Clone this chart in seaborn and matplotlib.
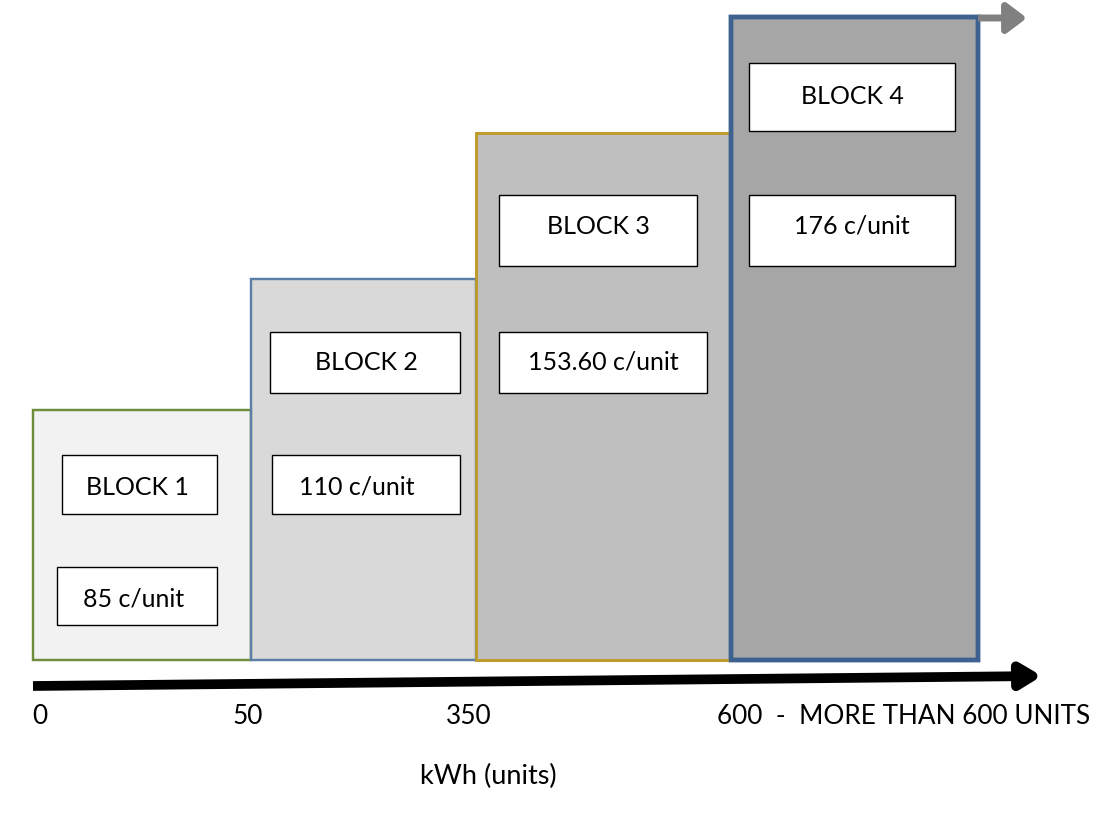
import matplotlib
matplotlib.use("Agg")
import matplotlib.pyplot as plt
import seaborn as sns
from matplotlib.patches import Rectangle

# ---------------- data ----------------
block_names = ["BLOCK 1", "BLOCK 2", "BLOCK 3", "BLOCK 4"]
block_rates = [85, 110, 153.60, 176]
rate_labels = ["85 c/unit", "110 c/unit", "153.60 c/unit", "176 c/unit"]
threshold_labels = ["0", "50", "350", "600  -  MORE THAN 600 UNITS"]
axis_title = "kWh (units)"

# ---------------- layout (pixel space) ----------------
block_left = [33, 251, 476, 731]
block_width = [218, 225, 255, 247]
block_top = [410, 279, 133, 17]
block_bottom = 660
block_fill = ["#f2f2f2", "#d9d9d9", "#bfbfbf", "#a6a6a6"]
block_edge = ["#6f8c3c", "#5b7fa6", "#bf9b2a", "#3d6290"]
block_lw = [1.6, 1.6, 1.9, 3.2]

name_box = [(62, 455, 155, 59), (270, 332, 190, 61), (499, 195, 198, 71), (749, 63, 206, 68)]
rate_box = [(57, 567, 160, 58), (272, 455, 188, 59), (499, 332, 208, 61), (749, 195, 206, 71)]
name_txt = [(137, 487), (366, 362), (598, 226), (852, 96)]
rate_txt = [(134, 599), (357, 487), (603, 362), (852, 226)]
tick_x = [32, 232, 446, 717]
tick_y = 717

sns.set_theme(style="white")
plt.rcParams["font.family"] = ["Lato", "DejaVu Sans"]

fig = plt.figure(figsize=(11.19, 8.23), dpi=100)
ax = fig.add_axes([0, 0, 1, 1])
ax.set_xlim(0, 1119)
ax.set_ylim(823, 0)
ax.axis("off")

# blocks as bars
heights = [block_bottom - t for t in block_top]
ax.bar(block_left, [-h for h in heights], width=block_width, bottom=block_bottom,
       align="edge", color=block_fill, edgecolor=block_edge, linewidth=block_lw, zorder=2)
for i in range(4):
    ax.add_patch(Rectangle((block_left[i], block_top[i]), block_width[i], heights[i],
                           fill=False, edgecolor=block_edge[i], linewidth=block_lw[i],
                           zorder=3 + i, joinstyle="miter"))

fs = 18
for i in range(4):
    for (bx, by, bw, bh), (tx, ty), label in ((name_box[i], name_txt[i], block_names[i]),
                                              (rate_box[i], rate_txt[i], rate_labels[i])):
        ax.add_patch(Rectangle((bx, by), bw, bh, facecolor="white", edgecolor="black",
                               linewidth=1.0, zorder=10))
        ax.text(tx, ty, label, ha="center", va="center", fontsize=fs, color="black", zorder=11)

# grey continuation arrow
ax.annotate("", xy=(1027, 18), xytext=(978, 18),
            arrowprops=dict(arrowstyle="-|>,head_length=1.0,head_width=0.75",
                            color="#808080", lw=5, shrinkA=0, shrinkB=0,
                            capstyle="butt"), zorder=12)

# black axis arrow
ax.annotate("", xy=(1042, 676), xytext=(33, 686),
            arrowprops=dict(arrowstyle="-|>,head_length=1.0,head_width=0.6",
                            color="black", lw=7, shrinkA=0, shrinkB=0,
                            capstyle="butt"), zorder=12)

for x, lab in zip(tick_x, threshold_labels):
    ax.text(x, tick_y, lab, ha="left", va="center", fontsize=18.8, color="black")

ax.text(488, 776, axis_title, ha="center", va="center", fontsize=19.5, color="black")

fig.savefig("out.png", dpi=100)
